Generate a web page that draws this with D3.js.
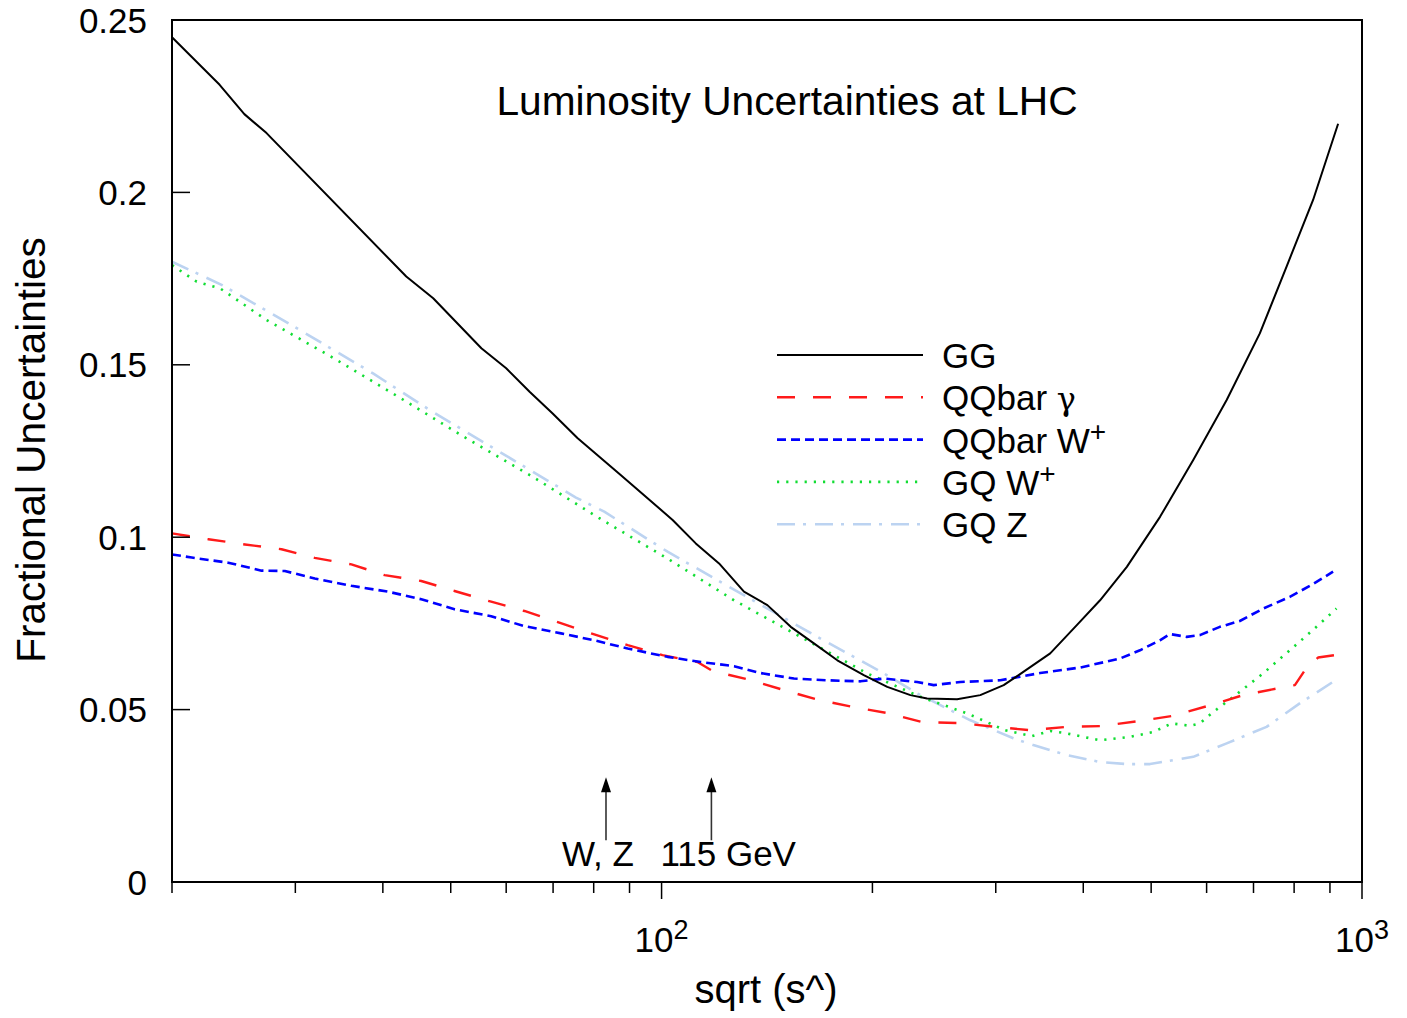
<!DOCTYPE html>
<html>
<head>
<meta charset="utf-8">
<script src="https://cdn.jsdelivr.net/npm/d3@7"></script>
<style>
  html, body { margin: 0; padding: 0; background: #fff; }
  svg { display: block; font-family: "Liberation Sans", Arial, Helvetica, sans-serif; }
</style>
</head>
<body>
<svg id="chart" width="1407" height="1018"></svg>
<script>
// ---------------- data ----------------
const ggX = [20, 23.39, 25.37, 27.29, 43.2, 47.2, 55.3, 60.0, 64.8, 69.9, 75.9, 87.5, 103.7, 111.9, 120.8, 131.1, 141.6, 152.9, 165.0, 178.2, 194.4, 210.0, 226.6, 239.4, 264.2, 285.1, 307.9, 323.4, 358.8, 391.6, 422.7, 461.6, 514.8, 574.2, 640.9, 714.7, 780.4, 851.5, 924.5];
const ggY = [0.2450, 0.2312, 0.2227, 0.2172, 0.1756, 0.1693, 0.1548, 0.1490, 0.1422, 0.1359, 0.1287, 0.1180, 0.1050, 0.0982, 0.0924, 0.0842, 0.0803, 0.0740, 0.0692, 0.0643, 0.0600, 0.0566, 0.0542, 0.0532, 0.0530, 0.0542, 0.0571, 0.0600, 0.0663, 0.0745, 0.0817, 0.0914, 0.1059, 0.1224, 0.1398, 0.1591, 0.1785, 0.1978, 0.2199];

const qqgX = [20, 22.54, 25.42, 28.67, 31.97, 36.07, 40.24, 45.39, 50.63, 57.11, 63.71, 71.45, 80.15, 89.45, 100.3, 112.5, 118.2, 132.6, 148.7, 166.9, 187.2, 210.0, 235.5, 265.6, 299.6, 336.1, 379.0, 422.7, 476.9, 537.8, 603.3, 676.6, 755.1, 802, 828.6, 865.5, 914.4];
const qqgY = [0.1011, 0.0994, 0.0979, 0.0965, 0.0940, 0.0921, 0.0890, 0.0873, 0.0844, 0.0813, 0.0786, 0.0752, 0.0718, 0.0687, 0.0658, 0.0638, 0.0612, 0.0588, 0.0558, 0.0529, 0.0508, 0.0490, 0.0464, 0.0461, 0.0450, 0.0440, 0.0450, 0.0452, 0.0466, 0.0482, 0.0511, 0.0542, 0.0561, 0.0571, 0.0614, 0.0651, 0.0658];

const qqwX = [20, 21.34, 24.06, 26.85, 28.98, 31.97, 36.07, 40.69, 45.39, 50.63, 57.11, 63.71, 71.86, 80.15, 89.45, 101.98, 113.8, 126.9, 138.5, 154.5, 172.4, 192.3, 207.7, 231.7, 244.6, 267.0, 304.5, 347.1, 395.9, 451.3, 482.0, 514.6, 532.0, 561.9, 586.9, 626.7, 669.2, 722.6, 788.7, 851.5, 909.3];
const qqwY = [0.0950, 0.0941, 0.0926, 0.0903, 0.0902, 0.0880, 0.0859, 0.0842, 0.0820, 0.0791, 0.0771, 0.0742, 0.0721, 0.0701, 0.0677, 0.0653, 0.0638, 0.0626, 0.0606, 0.0590, 0.0585, 0.0582, 0.0590, 0.0580, 0.0571, 0.0580, 0.0585, 0.0606, 0.0622, 0.0648, 0.0672, 0.0701, 0.0719, 0.0711, 0.0716, 0.0740, 0.0757, 0.0793, 0.0827, 0.0864, 0.0900];

const gqwX = [20, 21.69, 23.41, 27.29, 33.59, 42.27, 52.62, 65.5, 81.5, 101.98, 126.9, 157.9, 196.6, 234.2, 273.0, 309.6, 338.0, 358.8, 379.0, 422.7, 466.7, 503.6, 535.0, 568.2, 586.9, 613.3, 655, 722.6, 788.7, 861, 919.5];
const gqwY = [0.1789, 0.1741, 0.1722, 0.1630, 0.1526, 0.1405, 0.1287, 0.1175, 0.1055, 0.0938, 0.0817, 0.0711, 0.0605, 0.0537, 0.0489, 0.0440, 0.0423, 0.0438, 0.0431, 0.0411, 0.0421, 0.0435, 0.0460, 0.0453, 0.0460, 0.0493, 0.0537, 0.0605, 0.0672, 0.0740, 0.0793];

const gqzX = [20, 23.54, 30.44, 38.73, 46.65, 75.47, 82.83, 101.98, 129.7, 166.9, 207.7, 231.7, 276.0, 317.8, 339.4, 379.0, 422.7, 461.6, 498.1, 574.2, 640.9, 730.7, 814.9, 924.5];
const gqzY = [0.1799, 0.1732, 0.1601, 0.1475, 0.1369, 0.1115, 0.1074, 0.0958, 0.0837, 0.0711, 0.0605, 0.0547, 0.0469, 0.0417, 0.0397, 0.0368, 0.0348, 0.0342, 0.0342, 0.0363, 0.0402, 0.0450, 0.0518, 0.0590];

const seriesNames = ["GG", "QQbar γ", "QQbar W+", "GQ W+", "GQ Z"];
const yTicks = [0, 0.05, 0.1, 0.15, 0.2, 0.25];
const yTickLabels = ["0", "0.05", "0.1", "0.15", "0.2", "0.25"];
const xMajorTicks = [100, 1000];
const xMajorExp = ["2", "3"];
const xMinorTicks = [20, 30, 40, 50, 60, 70, 80, 90, 200, 300, 400, 500, 600, 700, 800, 900];
const arrowX = [83.3, 117.8];
const arrowLabels = ["W, Z", "115 GeV"];
const arrowY0 = 0.0121, arrowY1 = 0.0304;

// ---------------- layout ----------------
const svg = d3.select("#chart");
const L = 172, R = 1362, T = 20, B = 882;
const x = d3.scaleLog().domain([20, 1000]).range([L, R]);
const y = d3.scaleLinear().domain([0, 0.25]).range([B, T]);

const styles = [
  { color: "#000000", dash: null, width: 2 },
  { color: "#ff1a1a", dash: "18,18", width: 2.4 },
  { color: "#0000ff", dash: "9,5", width: 2.6 },
  { color: "#11dd33", dash: "2.2,7", width: 2.6 },
  { color: "#bcd3f1", dash: "18,8,3,9", width: 2.6 }
];

const series = [
  ggX.map((v, i) => [v, ggY[i]]),
  qqgX.map((v, i) => [v, qqgY[i]]),
  qqwX.map((v, i) => [v, qqwY[i]]),
  gqwX.map((v, i) => [v, gqwY[i]]),
  gqzX.map((v, i) => [v, gqzY[i]])
];

const line = d3.line().x(d => x(d[0])).y(d => y(d[1])).curve(d3.curveLinear);

const order = [4, 3, 1, 2, 0];
order.forEach(i => {
  const p = svg.append("path")
    .datum(series[i])
    .attr("d", line)
    .attr("fill", "none")
    .attr("stroke", styles[i].color)
    .attr("stroke-width", styles[i].width)
    .attr("stroke-linejoin", "round");
  if (styles[i].dash) p.attr("stroke-dasharray", styles[i].dash);
});

// frame
svg.append("rect")
  .attr("x", L).attr("y", T).attr("width", R - L).attr("height", B - T)
  .attr("fill", "none").attr("stroke", "#000").attr("stroke-width", 2);

// y ticks (inward) and labels
svg.selectAll(".ytick").data(yTicks).enter().append("line")
  .attr("x1", L).attr("x2", L + 18)
  .attr("y1", d => y(d)).attr("y2", d => y(d))
  .attr("stroke", "#000").attr("stroke-width", 1.5);
svg.selectAll(".ylab").data(yTicks).enter().append("text")
  .attr("x", L - 25).attr("y", d => y(d)).attr("dy", "0.36em")
  .attr("text-anchor", "end").attr("font-size", 35)
  .text((d, i) => yTickLabels[i]);

// x ticks (outward)
svg.selectAll(".xminor").data(xMinorTicks).enter().append("line")
  .attr("x1", d => x(d)).attr("x2", d => x(d))
  .attr("y1", B).attr("y2", B + 11)
  .attr("stroke", "#000").attr("stroke-width", 1.5);
svg.selectAll(".xmajor").data(xMajorTicks).enter().append("line")
  .attr("x1", d => x(d)).attr("x2", d => x(d))
  .attr("y1", B).attr("y2", B + 17)
  .attr("stroke", "#000").attr("stroke-width", 1.5);
const xl = svg.selectAll(".xlab").data(xMajorTicks).enter().append("text")
  .attr("x", d => x(d)).attr("y", 952)
  .attr("text-anchor", "middle").attr("font-size", 35);
xl.append("tspan").text("10");
xl.append("tspan").attr("font-size", 27).attr("dy", -13).text((d, i) => xMajorExp[i]);

// axis titles
svg.append("text")
  .attr("x", 766).attr("y", 1003).attr("text-anchor", "middle")
  .attr("font-size", 40).text("sqrt (s^)");
svg.append("text")
  .attr("transform", "translate(45,450) rotate(-90)")
  .attr("text-anchor", "middle").attr("font-size", 40.5)
  .text("Fractional Uncertainties");

// title
svg.append("text")
  .attr("x", 787).attr("y", 115).attr("text-anchor", "middle")
  .attr("font-size", 40.7).text("Luminosity Uncertainties at LHC");

// legend
const legX0 = 777, legX1 = 923, legY0 = 355, legStep = 42.3;
seriesNames.forEach((name, i) => {
  const ly = legY0 + i * legStep;
  const l = svg.append("line")
    .attr("x1", legX0).attr("x2", legX1).attr("y1", ly).attr("y2", ly)
    .attr("stroke", styles[i].color).attr("stroke-width", styles[i].width);
  if (styles[i].dash) l.attr("stroke-dasharray", styles[i].dash);
  const t = svg.append("text").attr("x", 942).attr("y", ly + 13).attr("font-size", 35);
  if (name.endsWith("+")) {
    t.append("tspan").text(name.slice(0, -1));
    t.append("tspan").attr("font-size", 28).attr("dy", -12).text("+");
  } else if (name.endsWith("γ")) {
    t.append("tspan").text(name.slice(0, -1));
    t.append("tspan").attr("font-family", "'DejaVu Serif', serif").attr("font-size", 32).text("γ");
  } else {
    t.text(name);
  }
});

// arrows & annotation
arrowX.forEach((v, i) => {
  const ax = x(v);
  const y0 = y(arrowY0), y1 = y(arrowY1);
  svg.append("line").attr("x1", ax).attr("x2", ax).attr("y1", y0).attr("y2", y1 + 12)
    .attr("stroke", "#333").attr("stroke-width", 1.6);
  svg.append("path")
    .attr("d", `M${ax},${y1} L${ax - 5},${y1 + 15} L${ax + 5},${y1 + 15} Z`)
    .attr("fill", "#000");
});
svg.append("text").attr("x", x(arrowX[0]) - 44).attr("y", 866)
  .attr("font-size", 35).text(arrowLabels[0]);
svg.append("text").attr("x", x(arrowX[1]) - 51).attr("y", 866)
  .attr("font-size", 35).text(arrowLabels[1]);
</script>
</body>
</html>
